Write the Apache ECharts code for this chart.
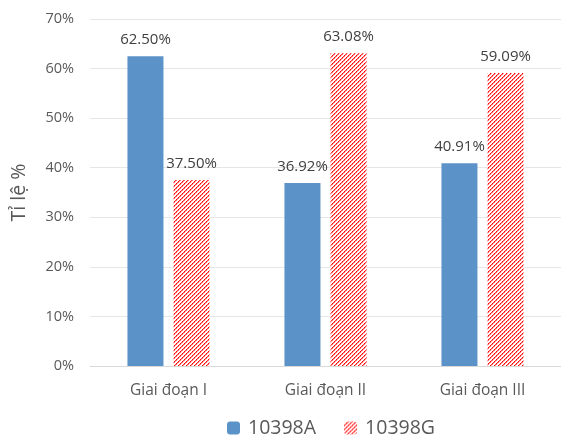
<!DOCTYPE html>
<html>
<head>
<meta charset="utf-8">
<script src="https://cdn.jsdelivr.net/npm/echarts@6/dist/echarts.min.js"></script>
<style>
html,body{margin:0;padding:0;background:#fff;}
#chart{width:561px;height:444px;}
</style>
</head>
<body>
<div id="chart"></div>
<script>
const categories = ['Giai đoạn I', 'Giai đoạn II', 'Giai đoạn III'];
const seriesNames = ['10398A', '10398G'];
const valuesA = [62.50, 36.92, 40.91];
const valuesG = [37.50, 63.08, 59.09];
const yTicks = [0, 10, 20, 30, 40, 50, 60, 70];

function makePattern() {
  const n = 4;
  const c = document.createElement('canvas');
  c.width = n; c.height = n;
  const ctx = c.getContext('2d');
  ctx.fillStyle = '#ffffff';
  ctx.fillRect(0, 0, n, n);
  for (let i = 0; i < n; i++) {
    const y = n - 1 - i;
    ctx.fillStyle = (i % 2 === 0) ? '#ff0000' : '#ff3c3c';
    ctx.fillRect(i, y, 1, 1);
    ctx.fillStyle = (i % 2 === 0) ? '#ffa0a0' : '#ff7070';
    ctx.fillRect((i + 1) % n, y, 1, 1);
  }
  return c;
}

const chart = echarts.init(document.getElementById('chart'), null, {renderer: 'canvas'});
const font = "'Open Sans', sans-serif";
const labelCfg = {show: true, position: 'top', distance: 9, fontSize: 15, color: '#404040', fontFamily: font,
  formatter: p => p.value.toFixed(2) + '%'};
chart.setOption({
  animation: false,
  textStyle: {fontFamily: font},
  grid: {left: 90, right: -3, top: 19, bottom: 78, containLabel: false},
  legend: {
    bottom: 1,
    left: 222,
    itemWidth: 13,
    itemHeight: 13,
    itemGap: 28,
    textStyle: {fontSize: 19.5, color: '#595959', fontFamily: font, padding: [0, 0, 0, 3]},
    data: seriesNames
  },
  xAxis: {
    type: 'category',
    data: categories,
    axisLine: {lineStyle: {color: '#d9d9d9', width: 1}},
    axisTick: {show: false},
    axisLabel: {fontSize: 15.5, color: '#595959', margin: 17, fontFamily: font}
  },
  yAxis: {
    type: 'value',
    min: yTicks[0],
    max: yTicks[yTicks.length - 1],
    interval: 10,
    name: 'Tỉ lệ %',
    nameLocation: 'middle',
    nameGap: 61,
    nameTextStyle: {fontSize: 19.5, color: '#595959', fontFamily: font},
    axisLabel: {fontSize: 14.5, color: '#595959', margin: 16, formatter: v => v + '%', fontFamily: font},
    splitLine: {lineStyle: {color: '#e6e6e6', width: 1}},
    axisLine: {show: false},
    axisTick: {show: false}
  },
  series: [
    {
      name: seriesNames[0],
      type: 'bar',
      data: valuesA,
      barWidth: 36,
      barGap: '28%',
      itemStyle: {color: '#5b93c9'},
      label: labelCfg
    },
    {
      name: seriesNames[1],
      type: 'bar',
      data: valuesG,
      barWidth: 36,
      barGap: '28%',
      itemStyle: {color: {image: makePattern(), repeat: 'repeat'}},
      label: labelCfg
    }
  ]
});
</script>
</body>
</html>
